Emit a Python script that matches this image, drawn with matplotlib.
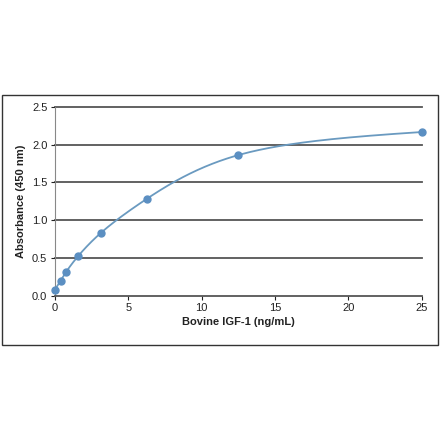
import numpy as np
import matplotlib
matplotlib.use("Agg")
import matplotlib.pyplot as plt
from matplotlib.patches import Rectangle

conc = [0.0, 0.39, 0.78, 1.5625, 3.125, 6.25, 12.5, 25.0]
absorb = [0.08, 0.20, 0.32, 0.52, 0.83, 1.28, 1.86, 2.165]
xticks = [0, 5, 10, 15, 20, 25]
yticks = [0.0, 0.5, 1.0, 1.5, 2.0, 2.5]


def natural_spline(x, y, xn):
    x = np.asarray(x, float); y = np.asarray(y, float)
    n = len(x); h = np.diff(x)
    A = np.zeros((n, n)); rhs = np.zeros(n)
    A[0, 0] = 1; A[-1, -1] = 1
    for i in range(1, n - 1):
        A[i, i - 1] = h[i - 1]; A[i, i] = 2 * (h[i - 1] + h[i]); A[i, i + 1] = h[i]
        rhs[i] = 6 * ((y[i + 1] - y[i]) / h[i] - (y[i] - y[i - 1]) / h[i - 1])
    M = np.linalg.solve(A, rhs)
    out = np.empty_like(xn)
    for j, xv in enumerate(xn):
        k = min(max(np.searchsorted(x, xv) - 1, 0), n - 2)
        t1 = x[k + 1] - xv; t0 = xv - x[k]
        out[j] = (M[k] * t1**3 + M[k + 1] * t0**3) / (6 * h[k]) \
            + (y[k] / h[k] - M[k] * h[k] / 6) * t1 + (y[k + 1] / h[k] - M[k + 1] * h[k] / 6) * t0
    return out


plt.rcParams['font.family'] = ['Liberation Sans', 'DejaVu Sans']
fig = plt.figure(figsize=(4.4, 4.41), dpi=100)
fig.patches.append(Rectangle((0.005, 0.218), 0.99, 0.567, transform=fig.transFigure,
                             fill=False, edgecolor='#333333', linewidth=1.0))
ax = fig.add_axes([0.125, 0.3295, 0.833, 0.4285])

for yv in yticks[1:]:
    ax.axhline(yv, color='#555555', linewidth=1.3, zorder=1, clip_on=False)

u = np.log1p(np.asarray(conc))
xs = np.linspace(conc[0], conc[-1], 500)
ys = natural_spline(u, absorb, np.log1p(xs))
ax.plot(xs, ys, color='#6a9ac0', linewidth=1.3, zorder=2)
ax.plot(conc, absorb, 'o', color='#5b8fc2', markersize=5, zorder=3, clip_on=False)

ax.set_xlim(0, 25)
ax.set_ylim(0, 2.5)
ax.set_xticks(xticks)
ax.set_xticklabels([str(v) for v in xticks])
ax.set_yticks(yticks)
ax.set_yticklabels([f"{v:.1f}" for v in yticks])
for s in ['top', 'right']:
    ax.spines[s].set_visible(False)
ax.spines['left'].set_color('#888888')
ax.spines['bottom'].set_color('#555555')
ax.spines['bottom'].set_linewidth(1.3)
ax.tick_params(axis='both', labelsize=8, colors='#222222', length=3, width=0.8, pad=2.5)
ax.set_xlabel('Bovine IGF-1 (ng/mL)', fontsize=8, fontweight='bold', color='#222222', labelpad=3)
ax.set_ylabel('Absorbance (450 nm)', fontsize=8, fontweight='bold', color='#222222', labelpad=4)

fig.savefig('out.png', dpi=100)
